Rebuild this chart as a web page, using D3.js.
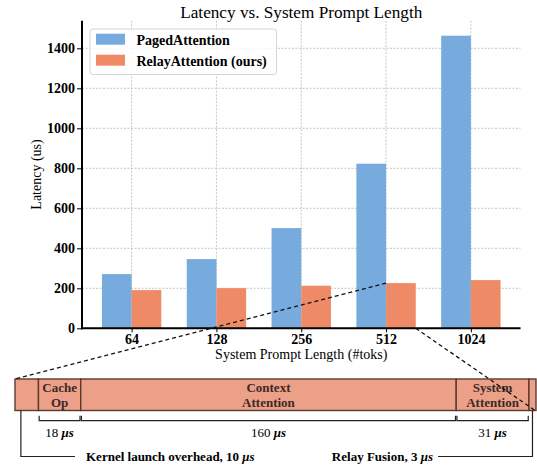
<!DOCTYPE html>
<html><head><meta charset="utf-8">
<script src="https://cdn.jsdelivr.net/npm/d3@7"></script>
<style>body{margin:0;background:#fff}svg{display:block}</style>
</head><body><div id="chart"></div>
<script>
// ---- data ----
const categories = ["64", "128", "256", "512", "1024"];
const pagedAttention = [271, 346, 501, 823, 1463];
const relayAttention = [191, 201, 213, 226, 241];
const seriesNames = ["PagedAttention", "RelayAttention (ours)"];
const yTicks = [0, 200, 400, 600, 800, 1000, 1200, 1400];
// breakdown of RelayAttention at 512 tokens (µs)
const segNames = ["", "Cache\nOp", "Context\nAttention", "System\nAttention", ""];
const segDurations = [10, 18, 160, 31, 3];
const bracketLabels = ["", "18", "160", "31", ""];
const noteKernel = "Kernel launch overhead, 10 ";
const noteRelay = "Relay Fusion, 3 ";

const W = 537, H = 465;
const colors = ["#77aadd", "#ef8a67"];
const serif = "'Liberation Serif','Times New Roman',serif";

const svg = d3.select("#chart").append("svg").attr("width", W).attr("height", H)
  .style("font-family", serif);

const m = {left: 82, right: 520.5, top: 20.7, bottom: 328.3};
const x = d3.scaleLinear().domain([-0.585, 4.585]).range([m.left, m.right]);
const y = d3.scaleLinear().domain([0, 1538]).range([m.bottom, m.top]);
const bw = 0.35;

// grid
const grid = svg.append("g").attr("stroke", "#b8b8b8").attr("stroke-width", 0.8)
  .attr("stroke-dasharray", "2,1.5");
yTicks.forEach(t => grid.append("line").attr("x1", m.left).attr("x2", m.right)
  .attr("y1", y(t)).attr("y2", y(t)));
categories.forEach((c, i) => grid.append("line").attr("x1", x(i)).attr("x2", x(i))
  .attr("y1", m.top).attr("y2", m.bottom));

// bars
[pagedAttention, relayAttention].forEach((vals, s) => {
  svg.append("g").selectAll("rect").data(vals).join("rect")
    .attr("x", (d, i) => x(i + (s === 0 ? -bw : 0)))
    .attr("width", x(bw) - x(0))
    .attr("y", d => y(d)).attr("height", d => y(0) - y(d))
    .attr("fill", colors[s]);
});

// axes
const yAxis = d3.axisLeft(y).tickValues(yTicks).tickSize(5).tickPadding(2).tickFormat(d3.format("d"));
const gy = svg.append("g").attr("transform", `translate(${m.left},0)`).call(yAxis);
gy.select(".domain").remove();
gy.append("line").attr("x1", 0).attr("x2", 0).attr("y1", m.top).attr("y2", m.bottom + 1)
  .attr("stroke", "#000").attr("stroke-width", 2);
const xAxis = d3.axisBottom(x).tickValues(categories.map((c, i) => i))
  .tickFormat(i => categories[i]).tickSize(4).tickPadding(2);
const gx = svg.append("g").attr("transform", `translate(0,${m.bottom})`).call(xAxis);
gx.select(".domain").remove();
gx.append("line").attr("x1", m.left - 1).attr("x2", m.right).attr("y1", 0).attr("y2", 0)
  .attr("stroke", "#000").attr("stroke-width", 2);
[gx, gy].forEach(g => {
  g.attr("font-family", serif).attr("font-size", 14).attr("font-weight", "bold");
  g.selectAll(".tick text").style("font-family", serif).attr("font-size", 14)
    .attr("font-weight", "bold").attr("fill", "#000");
  g.selectAll(".tick line").attr("stroke", "#000").attr("stroke-width", 1);
});

// labels
svg.append("text").attr("x", (m.left + m.right) / 2).attr("y", 17.5).attr("text-anchor", "middle")
  .attr("font-size", 17.2).text("Latency vs. System Prompt Length");
svg.append("text").attr("x", (m.left + m.right) / 2).attr("y", 359).attr("text-anchor", "middle")
  .attr("font-size", 14).text("System Prompt Length (#toks)");
svg.append("text").attr("transform", `translate(41,${(m.top + m.bottom) / 2 - 0}) rotate(-90)`)
  .attr("text-anchor", "middle").attr("font-size", 14).text("Latency (us)");

// legend
const lg = svg.append("g");
lg.append("rect").attr("x", 90).attr("y", 29).attr("width", 186.5).attr("height", 45.5)
  .attr("rx", 3).attr("fill", "#fff").attr("fill-opacity", 0.85)
  .attr("stroke", "#d5d5d5").attr("stroke-width", 1);
seriesNames.forEach((n, i) => {
  lg.append("rect").attr("x", 96).attr("y", 33.7 + i * 21).attr("width", 29).attr("height", 11)
    .attr("fill", colors[i]);
  lg.append("text").attr("x", 136.5).attr("y", 44.5 + i * 21).attr("font-size", 14)
    .attr("font-weight", "bold").text(n);
});

// breakdown bar
const total = d3.sum(segDurations);
const bx = d3.scaleLinear().domain([0, total]).range([15, 536]);
const boxTop = 379, boxBot = 410.5;
const starts = segDurations.map((d, i) => d3.sum(segDurations.slice(0, i)));
const gb = svg.append("g");
gb.selectAll("rect").data(segDurations).join("rect")
  .attr("x", (d, i) => bx(starts[i])).attr("width", d => bx(d) - bx(0))
  .attr("y", boxTop).attr("height", boxBot - boxTop)
  .attr("fill", "#eda088").attr("stroke", "#5a3a30").attr("stroke-width", 1.4);
segNames.forEach((n, i) => {
  if (!n) return;
  const cx = bx(starts[i] + segDurations[i] / 2);
  n.split("\n").forEach((line, k) => {
    gb.append("text").attr("x", cx).attr("y", 392 + k * 15).attr("text-anchor", "middle")
      .attr("font-size", 13).attr("font-weight", "bold").attr("fill", "#3a2a25").text(line);
  });
});
// brackets
const brY = 420.7;
bracketLabels.forEach((lab, i) => {
  if (!lab) return;
  const x1 = bx(starts[i] + 0.3), x2 = bx(starts[i] + segDurations[i] - 0.3);
  gb.append("path").attr("d", `M${x1},${brY - 5}V${brY}H${x2}V${brY - 5}`)
    .attr("fill", "none").attr("stroke", "#222").attr("stroke-width", 1.2);
  const t = gb.append("text").attr("x", (x1 + x2) / 2).attr("y", 437).attr("text-anchor", "middle")
    .attr("font-size", 13);
  t.append("tspan").text(lab + " ");
  t.append("tspan").attr("font-style", "italic").attr("font-weight", "bold").text("μs");
});
// callouts
const noteY = 456.5;
const kx = bx(2.5), rx = bx(total - 1.5);
gb.append("path").attr("d", `M${kx},${boxBot}V${noteY}H75`).attr("fill", "none")
  .attr("stroke", "#222").attr("stroke-width", 1.2);
gb.append("path").attr("d", `M${rx},${boxBot}V${noteY}H438`).attr("fill", "none")
  .attr("stroke", "#222").attr("stroke-width", 1.2);
const t1 = gb.append("text").attr("x", 86).attr("y", 461).attr("font-size", 13).attr("font-weight", "bold");
t1.append("tspan").text(noteKernel);
t1.append("tspan").attr("font-style", "italic").text("μs");
const t2 = gb.append("text").attr("x", 433).attr("y", 461).attr("text-anchor", "end")
  .attr("font-size", 13).attr("font-weight", "bold");
t2.append("tspan").text(noteRelay);
t2.append("tspan").attr("font-style", "italic").text("μs");

// zoom dashed lines from the 512 RelayAttention bar
const zi = 3;
const barL = x(zi), barR = x(zi + bw);
svg.append("line").attr("x1", barL).attr("y1", y(relayAttention[zi])).attr("x2", 15).attr("y2", boxTop)
  .attr("stroke", "#111").attr("stroke-width", 1.3).attr("stroke-dasharray", "4,3");
svg.append("line").attr("x1", barR).attr("y1", y(0)).attr("x2", 535).attr("y2", boxBot)
  .attr("stroke", "#111").attr("stroke-width", 1.3).attr("stroke-dasharray", "4,3");
</script></body></html>
